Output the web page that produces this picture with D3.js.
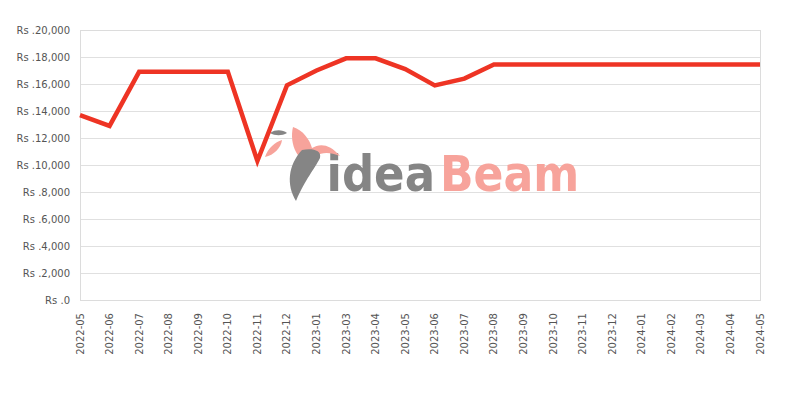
<!DOCTYPE html>
<html><head><meta charset="utf-8">
<script src="https://cdn.jsdelivr.net/npm/d3@7"></script>
<style>body{margin:0;background:#fff}svg{display:block}</style>
</head><body><svg id="c" width="800" height="400"></svg>
<script>
const categories = ["2022-05","2022-06","2022-07","2022-08","2022-09","2022-10","2022-11","2022-12","2023-01","2023-03","2023-04","2023-05","2023-06","2023-07","2023-08","2023-09","2023-10","2023-11","2023-12","2024-01","2024-02","2024-03","2024-04","2024-05"];
const prices = [13700,12900,16900,16900,16900,16900,10300,15900,17000,17900,17900,17100,15900,16400,17450,17450,17450,17450,17450,17450,17450,17450,17450,17450];
const yTicks = [0,2000,4000,6000,8000,10000,12000,14000,16000,18000,20000];

const svg = d3.select("#c");
const L=80,R=760,T=30,B=300;
const x = d3.scalePoint().domain(categories).range([L,R]);
const y = d3.scaleLinear().domain([0,20000]).range([B,T]);
const fmt = d3.format(",");

// grid
svg.append("g").selectAll("line").data(yTicks).join("line")
  .attr("x1",L).attr("x2",R).attr("y1",d=>y(d)+0.5).attr("y2",d=>y(d)+0.5)
  .attr("stroke","#e0e0e0").attr("stroke-width",1);
svg.append("rect").attr("x",L+0.5).attr("y",T+0.5).attr("width",R-L).attr("height",B-T)
  .attr("fill","none").attr("stroke","#dcdcdc");

// watermark
const wm = svg.append("g").attr("class","watermark");
wm.append("text").attr("x",435).attr("y",191).attr("text-anchor","end")
  .attr("font-family","DejaVu Sans Condensed, DejaVu Sans").attr("font-weight","bold")
  .attr("font-size",50).attr("fill","#858585").text("idea");
wm.append("text").attr("x",440).attr("y",191).attr("text-anchor","start")
  .attr("font-family","DejaVu Sans Condensed, DejaVu Sans").attr("font-weight","bold")
  .attr("font-size",49).attr("fill","#f7a39b").text("Beam");
// bird head/body
wm.append("path").attr("d","M293,127 C303,130 310,140 312,148 C320,143 330,144 340,156 C330,152 322,152 316,156 C310,162 300,160 296,152 C292,145 291,135 293,127 Z").attr("fill","#f7a39b");
// grey wing feather
wm.append("path").attr("d","M296,201 C286,185 288,165 302,150 C312,148 322,150 320,158 C314,170 306,178 296,201 Z").attr("fill","#858585");
// small pink feather
wm.append("path").attr("d","M265,157 C268,148 275,142 282,140 C281,148 274,155 265,157 Z").attr("fill","#f7a39b");
// small grey feather
wm.append("path").attr("d","M270,133 C276,129 283,130 287,133 C282,136 275,136 270,133 Z").attr("fill","#858585");

// line
svg.append("path").datum(prices)
  .attr("fill","none").attr("stroke","#ee3424").attr("stroke-width",4.5).attr("stroke-linejoin","miter")
  .attr("d", d3.line().x((d,i)=>x(categories[i])).y(d=>y(d)));

// y labels
svg.append("g").selectAll("text").data(yTicks).join("text")
  .attr("x",70).attr("y",d=>y(d)).attr("dy","0.35em").attr("text-anchor","end")
  .attr("font-family","DejaVu Sans").attr("font-size",10).attr("fill","#555")
  .text(d=>"Rs ." + fmt(d));

// x labels
svg.append("g").selectAll("text").data(categories).join("text")
  .attr("transform",d=>`translate(${x(d)},313) rotate(-90)`)
  .attr("dy","0.35em").attr("text-anchor","end")
  .attr("font-family","DejaVu Sans").attr("font-size",10).attr("fill","#555")
  .text(d=>d);
</script></body></html>
